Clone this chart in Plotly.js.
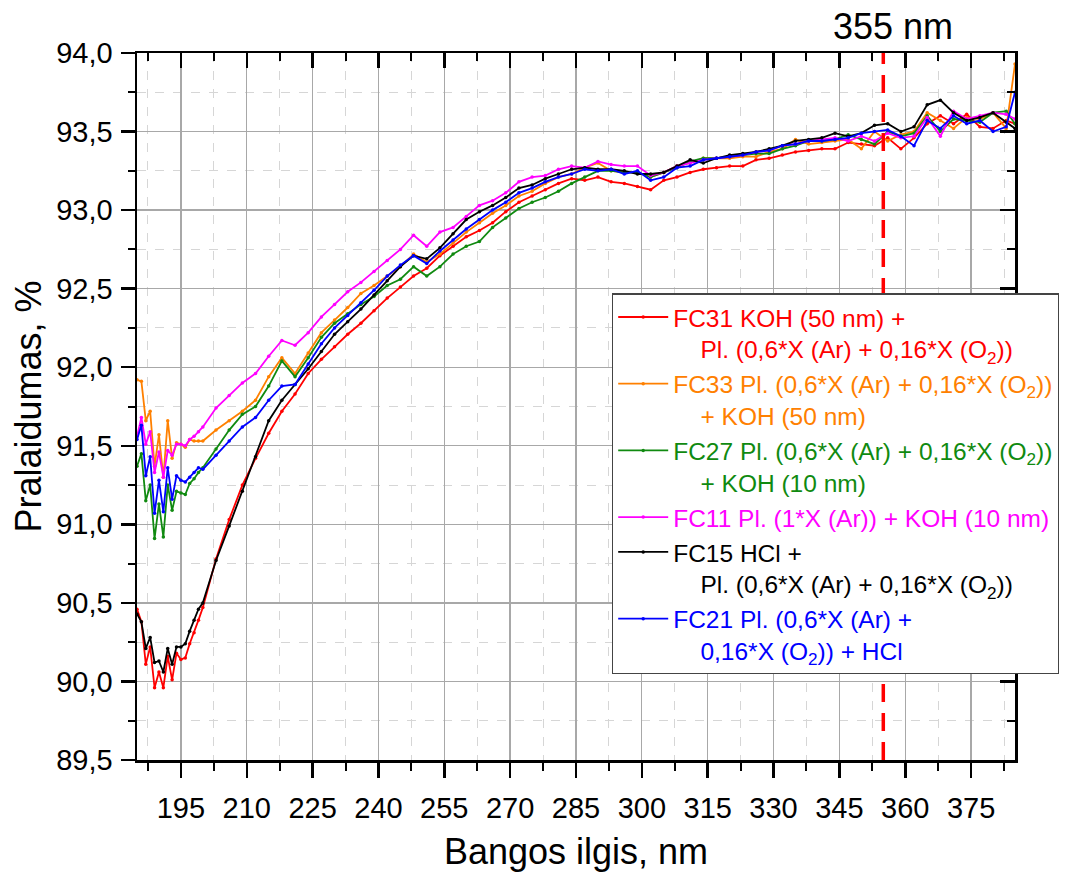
<!DOCTYPE html>
<html>
<head>
<meta charset="utf-8">
<script src="https://cdn.plot.ly/plotly-3.0.1.min.js"></script>
<style>html,body{margin:0;padding:0;background:#fff;}#chart{width:1071px;height:872px;}</style>
</head>
<body>
<div id="chart"></div>
<script>
// Wavelength, nm
const wavelength = [185,186,187,188,189,190,191,192,193,194,195,196,197,198,199,200,
  203,206,209,212,215,218,221,224,227,230,233,236,239,242,245,248,251,254,257,260,263,266,269,272,275,278,281,284,287,290,293,296,299,302,305,308,311,314,317,320,323,326,329,332,335,338,341,344,347,350,353,356,359,362,365,368,371,374,377,380,383,385];

// Transmittance, %
const fc31 = [90.46,90.38,90.11,90.22,89.96,90.06,89.96,90.16,90.01,90.18,90.14,90.15,90.24,90.31,90.39,90.47,
  90.78,91.03,91.25,91.42,91.58,91.72,91.83,91.96,92.05,92.13,92.21,92.28,92.36,92.44,92.51,92.58,92.63,92.71,92.77,92.83,92.87,92.92,92.99,93.05,93.09,93.13,93.17,93.20,93.19,93.21,93.18,93.17,93.15,93.13,93.19,93.21,93.24,93.26,93.27,93.28,93.28,93.32,93.33,93.35,93.37,93.38,93.39,93.39,93.43,93.42,93.41,93.46,93.39,93.46,93.55,93.60,93.55,93.61,93.53,93.52,93.57,93.55];
const fc33 = [91.92,91.91,91.66,91.72,91.37,91.57,91.30,91.66,91.42,91.52,91.51,91.49,91.54,91.53,91.53,91.53,
  91.60,91.66,91.72,91.79,91.94,92.06,91.96,92.09,92.22,92.30,92.38,92.47,92.52,92.58,92.64,92.72,92.67,92.72,92.79,92.86,92.92,92.98,93.03,93.09,93.12,93.17,93.21,93.23,93.27,93.30,93.25,93.24,93.24,93.21,93.24,93.28,93.30,93.33,93.33,93.33,93.34,93.34,93.37,93.39,93.45,93.42,93.43,93.44,93.45,93.39,93.50,93.44,93.48,93.50,93.62,93.57,93.52,93.59,93.58,93.62,93.52,93.93];
const fc27 = [91.37,91.45,91.15,91.25,90.91,91.13,90.92,91.25,91.09,91.21,91.20,91.19,91.26,91.29,91.33,91.36,
  91.48,91.60,91.70,91.75,91.88,92.04,91.94,92.06,92.19,92.28,92.34,92.40,92.45,92.52,92.56,92.64,92.58,92.64,92.72,92.77,92.80,92.89,92.95,93.01,93.05,93.08,93.12,93.17,93.21,93.25,93.25,93.24,93.24,93.21,93.24,93.27,93.31,93.33,93.33,93.34,93.35,93.36,93.36,93.39,93.41,93.44,93.44,93.45,93.48,93.45,93.42,93.50,93.47,93.49,93.60,93.50,93.58,93.57,93.56,93.62,93.63,93.55];
const fc11 = [91.56,91.68,91.51,91.59,91.33,91.46,91.30,91.47,91.44,91.51,91.51,91.50,91.54,91.56,91.59,91.62,
  91.74,91.82,91.90,91.96,92.07,92.17,92.14,92.22,92.32,92.40,92.48,92.54,92.61,92.68,92.75,92.84,92.77,92.86,92.89,92.96,93.03,93.06,93.11,93.18,93.21,93.22,93.26,93.28,93.27,93.31,93.29,93.28,93.28,93.22,93.24,93.28,93.30,93.32,93.33,93.34,93.35,93.37,93.38,93.41,93.42,93.44,93.45,93.46,93.44,93.47,93.44,93.49,93.46,93.47,93.59,93.47,93.63,93.58,93.60,93.62,93.61,93.58];
const fc15 = [90.43,90.38,90.21,90.28,90.12,90.13,90.06,90.21,90.11,90.22,90.22,90.24,90.32,90.39,90.46,90.50,
  90.77,90.99,91.21,91.43,91.66,91.79,91.89,91.99,92.10,92.21,92.29,92.37,92.46,92.55,92.64,92.71,92.69,92.76,92.85,92.94,92.99,93.03,93.08,93.14,93.16,93.20,93.23,93.26,93.27,93.26,93.26,93.25,93.23,93.23,93.24,93.28,93.32,93.30,93.33,93.35,93.36,93.37,93.39,93.41,93.44,93.45,93.46,93.49,93.47,93.49,93.54,93.55,93.50,93.53,93.67,93.70,93.62,93.57,93.59,93.62,93.56,93.52];
const fc21 = [91.54,91.63,91.31,91.43,91.07,91.28,91.08,91.36,91.16,91.31,91.28,91.27,91.30,91.33,91.36,91.35,
  91.44,91.53,91.62,91.68,91.79,91.88,91.89,92.02,92.15,92.25,92.33,92.41,92.49,92.58,92.65,92.71,92.66,92.74,92.81,92.88,92.94,93.00,93.05,93.11,93.14,93.18,93.21,93.23,93.26,93.25,93.26,93.23,93.25,93.19,93.21,93.27,93.28,93.32,93.33,93.34,93.35,93.37,93.38,93.41,93.42,93.44,93.44,93.45,93.46,93.49,93.50,93.51,93.47,93.41,93.57,93.52,93.60,93.55,93.57,93.50,93.53,93.75];

// Legend labels (one list of lines per series)
const labelFC31 = ["FC31 KOH (50 nm) +", "Pl. (0,6*X (Ar) + 0,16*X (O<sub>2</sub>))"];
const labelFC33 = ["FC33 Pl. (0,6*X (Ar) + 0,16*X (O<sub>2</sub>))", "+ KOH (50 nm)"];
const labelFC27 = ["FC27 Pl. (0,6*X (Ar) + 0,16*X (O<sub>2</sub>))", "+ KOH (10 nm)"];
const labelFC11 = ["FC11 Pl. (1*X (Ar)) + KOH (10 nm)"];
const labelFC15 = ["FC15 HCl +", "Pl. (0,6*X (Ar) + 0,16*X (O<sub>2</sub>))"];
const labelFC21 = ["FC21 Pl. (0,6*X (Ar) +", "0,16*X (O<sub>2</sub>)) + HCl"];

const markerWavelength = 355;
const markerLabel = "355 nm";
const xTitle = "Bangos ilgis, nm";
const yTitle = "Pralaidumas, %";

const series = [
  {y: fc31, label: labelFC31, color: "#ff0000"},
  {y: fc33, label: labelFC33, color: "#ff8000"},
  {y: fc27, label: labelFC27, color: "#108a10"},
  {y: fc11, label: labelFC11, color: "#ff00ff"},
  {y: fc15, label: labelFC15, color: "#000000"},
  {y: fc21, label: labelFC21, color: "#0000ff"}
];

const indent = "\u00a0\u00a0\u00a0\u00a0";
function makeName(lines, color) {
  return lines.map((l, i) => '<span style="color:' + color + '">' + (i > 0 ? indent : '') + l + '</span>').join('<br>');
}

const font = "Liberation Sans, Arial, sans-serif";
const traces = series.map(s => ({
  x: wavelength, y: s.y, type: "scatter", mode: "lines+markers",
  name: makeName(s.label, s.color),
  line: {color: s.color, width: 1.8},
  marker: {color: s.color, size: 3.5},
  hoverinfo: "x+y"
}));
// empty trace to activate the mirrored (inside-tick) axes
traces.push({x: [], y: [], xaxis: "x2", yaxis: "y2", showlegend: false, hoverinfo: "skip", type: "scatter", mode: "lines"});

const xr = [185, 385], yr = [89.5, 94.0];
const layout = {
  width: 1071, height: 872,
  margin: {l: 137, r: 56, t: 53, b: 112},
  paper_bgcolor: "#fff", plot_bgcolor: "#fff",
  separators: ",.",
  font: {family: font, color: "#000"},
  showlegend: true,
  legend: {
    x: 0.541, y: 0.66, xanchor: "left", yanchor: "top",
    bgcolor: "#fff", bordercolor: "#444", borderwidth: 1.2,
    font: {size: 24.5, family: font}, valign: "top", itemwidth: 50,
    tracegroupgap: 0
  },
  xaxis: {
    range: xr, tick0: 195, dtick: 15, tickmode: "linear",
    ticks: "outside", ticklen: 15, tickwidth: 2.5, tickcolor: "#000",
    showline: true, linewidth: 2.5, linecolor: "#000", mirror: true,
    showgrid: true, gridcolor: "#a8a8a8", gridwidth: 1.3, zeroline: false,
    tickfont: {size: 29}, ticklabelstandoff: 6,
    minor: {tick0: 187.5, dtick: 7.5, ticks: "outside", ticklen: 8, tickwidth: 2, tickcolor: "#000",
            showgrid: true, gridcolor: "#d6d6d6", gridwidth: 1, griddash: "dash"},
    title: {text: xTitle, font: {size: 36}, standoff: 18}
  },
  yaxis: {
    range: yr, tick0: 89.5, dtick: 0.5, tickmode: "linear", tickformat: ".1f",
    ticks: "outside", ticklen: 14, tickwidth: 2.5, tickcolor: "#000",
    showline: true, linewidth: 2.5, linecolor: "#000", mirror: true,
    showgrid: true, gridcolor: "#a8a8a8", gridwidth: 1.3, zeroline: false,
    tickfont: {size: 29}, ticklabelstandoff: 2,
    minor: {dtick: 0.25, ticks: "outside", ticklen: 7, tickwidth: 2, tickcolor: "#000",
            showgrid: true, gridcolor: "#d6d6d6", gridwidth: 1, griddash: "dash"},
    title: {text: yTitle, font: {size: 36}, standoff: 4}
  },
  xaxis2: {
    overlaying: "x", side: "top", anchor: "y2", range: xr, tick0: 195, dtick: 15, tickmode: "linear",
    ticks: "inside", ticklen: 15, tickwidth: 2.5, tickcolor: "#000", showticklabels: false,
    showgrid: false, zeroline: false, showline: false,
    minor: {tick0: 187.5, dtick: 7.5, ticks: "inside", ticklen: 8, tickwidth: 2, tickcolor: "#000", showgrid: false}
  },
  yaxis2: {
    overlaying: "y", side: "right", anchor: "x2", range: yr, tick0: 89.5, dtick: 0.5, tickmode: "linear",
    ticks: "inside", ticklen: 15, tickwidth: 2.5, tickcolor: "#000", showticklabels: false,
    showgrid: false, zeroline: false, showline: false,
    minor: {dtick: 0.25, ticks: "inside", ticklen: 8, tickwidth: 2, tickcolor: "#000", showgrid: false}
  },
  shapes: [{
    type: "line", xref: "x", yref: "paper", x0: markerWavelength, x1: markerWavelength, y0: 0, y1: 1,
    line: {color: "#ff0000", width: 3.5, dash: "18px,11px"}, layer: "above"
  }],
  annotations: [{
    xref: "x", yref: "paper", x: markerWavelength + 2.3, y: 1.0, yshift: 27,
    text: markerLabel, showarrow: false, xanchor: "center", yanchor: "middle",
    font: {size: 36, family: font, color: "#000"}
  }]
};

Plotly.newPlot("chart", traces, layout, {displayModeBar: false, staticPlot: true});
</script>
</body>
</html>
